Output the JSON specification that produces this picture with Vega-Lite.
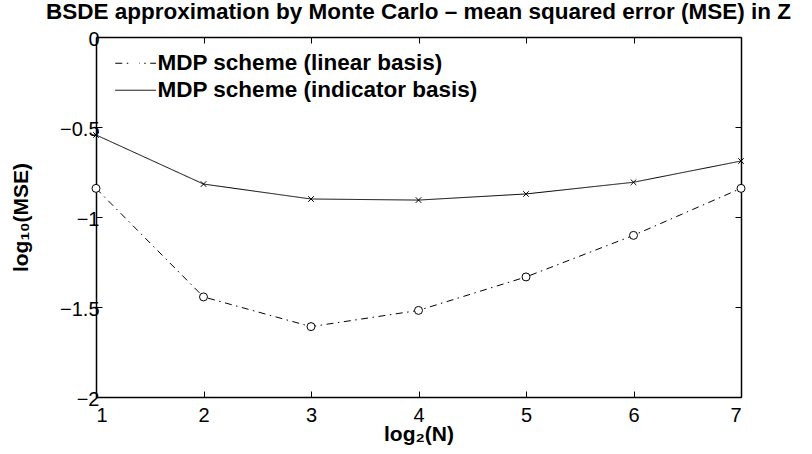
{
  "$schema": "https://vega.github.io/schema/vega-lite/v6.json",
  "width": 645,
  "height": 360,
  "autosize": {"type": "none"},
  "padding": {"left": 96, "top": 37, "right": 71, "bottom": 57},
  "background": "white",
  "title": {
    "text": "BSDE approximation by Monte Carlo – mean squared error (MSE) in Z",
    "font": "Liberation Sans",
    "fontSize": 22.5,
    "fontWeight": "bold",
    "color": "black",
    "anchor": "middle",
    "frame": "group",
    "dx": 0,
    "offset": 6
  },
  "data": {
    "values": [
      {"x": 1, "y": -0.841, "series": "MDP scheme (linear basis)"},
      {"x": 2, "y": -1.444, "series": "MDP scheme (linear basis)"},
      {"x": 3, "y": -1.609, "series": "MDP scheme (linear basis)"},
      {"x": 4, "y": -1.519, "series": "MDP scheme (linear basis)"},
      {"x": 5, "y": -1.333, "series": "MDP scheme (linear basis)"},
      {"x": 6, "y": -1.102, "series": "MDP scheme (linear basis)"},
      {"x": 7, "y": -0.841, "series": "MDP scheme (linear basis)"},
      {"x": 1, "y": -0.544, "series": "MDP scheme (indicator basis)"},
      {"x": 2, "y": -0.817, "series": "MDP scheme (indicator basis)"},
      {"x": 3, "y": -0.900, "series": "MDP scheme (indicator basis)"},
      {"x": 4, "y": -0.906, "series": "MDP scheme (indicator basis)"},
      {"x": 5, "y": -0.872, "series": "MDP scheme (indicator basis)"},
      {"x": 6, "y": -0.807, "series": "MDP scheme (indicator basis)"},
      {"x": 7, "y": -0.689, "series": "MDP scheme (indicator basis)"}
    ]
  },
  "layer": [
    {
      "mark": {"type": "line", "color": "black", "strokeWidth": 1},
      "encoding": {
        "x": {
          "field": "x", "type": "quantitative",
          "scale": {"domain": [1, 7], "nice": false, "zero": false},
          "axis": {
            "orient": "bottom",
            "values": [1, 2, 3, 4, 5, 6, 7],
            "format": "d",
            "title": "log₂(N)",
            "titleFontSize": 21,
            "titlePadding": -2,
            "labelPadding": 14,
            "grid": false
          }
        },
        "y": {
          "field": "y", "type": "quantitative",
          "scale": {"domain": [-2, 0], "nice": false, "zero": false},
          "axis": {
            "orient": "left",
            "values": [-2, -1.5, -1, -0.5, 0],
            "format": "~g",
            "title": "log₁₀(MSE)",
            "titleFontSize": 21,
            "titlePadding": 28,
            "labelPadding": 3,
            "labelOffset": 2,
            "grid": false
          }
        },
        "strokeDash": {
          "field": "series", "type": "nominal",
          "scale": {
            "domain": ["MDP scheme (linear basis)", "MDP scheme (indicator basis)"],
            "range": [[7, 4.5, 1.5, 4.5], [1, 0]]
          },
          "legend": {
            "title": null,
            "orient": "none",
            "legendX": 28,
            "legendY": 15,
            "labelFont": "Liberation Sans",
            "labelFontSize": 22.5,
            "labelFontWeight": "bold",
            "labelColor": "transparent",
            "labelOffset": 11,
            "symbolType": "M-5,0L5.2,0",
            "symbolSize": 64,
            "symbolStrokeColor": "black",
            "symbolStrokeWidth": 1,
            "symbolOpacity": 1,
            "rowPadding": 4,
            "labelLimit": 500
          }
        }
      }
    },
    {
      "mark": {"type": "point", "filled": false, "fill": "white", "fillOpacity": 1, "stroke": "black", "strokeWidth": 1, "opacity": 1, "size": 64},
      "encoding": {
        "x": {
          "field": "x", "type": "quantitative",
          "axis": {"orient": "top", "values": [1, 2, 3, 4, 5, 6, 7], "labels": false, "title": null, "grid": false}
        },
        "y": {
          "field": "y", "type": "quantitative",
          "axis": {"orient": "right", "values": [-2, -1.5, -1, -0.5, 0], "labels": false, "title": null, "grid": false}
        },
        "shape": {
          "field": "series", "type": "nominal",
          "scale": {
            "domain": ["MDP scheme (indicator basis)", "MDP scheme (linear basis)"],
            "range": ["M-0.7,-0.7L0.7,0.7M-0.7,0.7L0.7,-0.7", "circle"]
          },
          "legend": {
            "title": null,
            "orient": "none",
            "legendX": 28,
            "legendY": 15,
            "values": ["MDP scheme (linear basis)", "MDP scheme (indicator basis)"],
            "labelFont": "Liberation Sans",
            "labelFontSize": 22.5,
            "labelFontWeight": "bold",
            "labelColor": "black",
            "labelOffset": 11,
            "symbolSize": 64,
            "symbolStrokeColor": "black",
            "symbolFillColor": "white",
            "symbolStrokeWidth": 1,
            "symbolOpacity": 1,
            "rowPadding": 4,
            "labelLimit": 500
          }
        }
      }
    }
  ],
  "resolve": {"axis": {"x": "independent", "y": "independent"}},
  "config": {
    "view": {"stroke": null},
    "font": "Liberation Sans",
    "axis": {
      "domainColor": "black",
      "domainWidth": 1.5,
      "tickColor": "black",
      "tickWidth": 1,
      "tickSize": -6,
      "labelFont": "Liberation Sans",
      "labelFontSize": 20,
      "labelColor": "black",
      "titleFont": "Liberation Sans",
      "titleFontWeight": "bold",
      "titleColor": "black"
    }
  }
}
